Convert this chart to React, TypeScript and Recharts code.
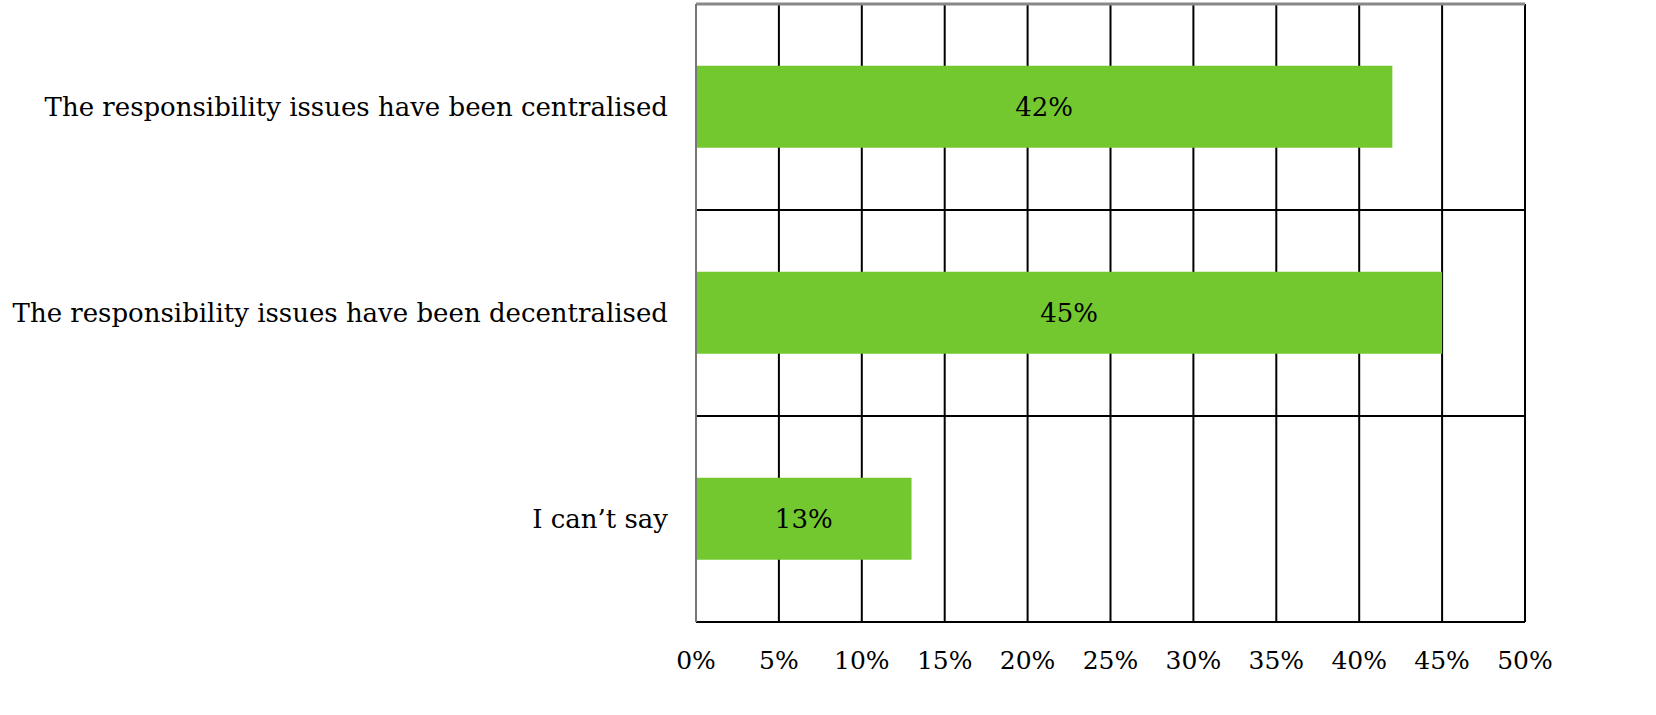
import React from 'react';
import { BarChart, Bar, XAxis, YAxis, CartesianGrid, LabelList } from 'recharts';

const categories = [
  'The responsibility issues have been centralised',
  'The responsibility issues have been decentralised',
  'I can\u2019t say',
];
const values = [42, 45, 13];
const xTicks = [0, 5, 10, 15, 20, 25, 30, 35, 40, 45, 50];

const data = categories.map((c, i) => ({ name: c, value: values[i] }));

const FONT = '"DejaVu Serif", serif';

const innerBoundaries = ({ offset }: any) => {
  const step = offset.height / categories.length;
  return categories.slice(1).map((_, i) => offset.top + step * (i + 1)).concat([offset.top + offset.height]);
};
const topBoundary = ({ offset }: any) => [offset.top];

export default function App() {
  return (
    <div style={{ position: 'absolute', left: 0, top: 0 }}>
      <BarChart
        width={1656}
        height={715}
        data={data}
        layout="vertical"
        margin={{ top: 4, right: 131, bottom: 0, left: 0 }}
        barCategoryGap="30%"
      >
        <CartesianGrid
          stroke="#000"
          strokeWidth={2}
          horizontal={false}
          vertical={true}
          verticalValues={xTicks}
        />
        <CartesianGrid
          stroke="#000"
          strokeWidth={2}
          horizontal={true}
          vertical={false}
          horizontalCoordinatesGenerator={innerBoundaries}
        />
        <CartesianGrid
          stroke="#888"
          strokeWidth={3}
          horizontal={true}
          vertical={false}
          horizontalCoordinatesGenerator={topBoundary}
        />
        <XAxis
          type="number"
          domain={[0, 50]}
          ticks={xTicks}
          interval={0}
          tickFormatter={(v) => `${v}%`}
          axisLine={{ stroke: '#000', strokeWidth: 2 }}
          tickLine={false}
          tickSize={0}
          tickMargin={29}
          height={93}
          tick={{ fill: '#000', fontSize: 25, fontFamily: FONT }}
        />
        <YAxis
          type="category"
          dataKey="name"
          width={696}
          axisLine={{ stroke: '#777', strokeWidth: 2 }}
          tickLine={false}
          tickSize={0}
          tickMargin={28}
          tick={{ fill: '#000', fontSize: 26, fontFamily: FONT }}
        />
        <Bar dataKey="value" fill="#74C82F" isAnimationActive={false}>
          <LabelList
            dataKey="value"
            position="center"
            formatter={(v: number) => `${v}%`}
            style={{ fill: '#000', fontSize: 26, fontFamily: FONT }}
          />
        </Bar>
      </BarChart>
    </div>
  );
}
